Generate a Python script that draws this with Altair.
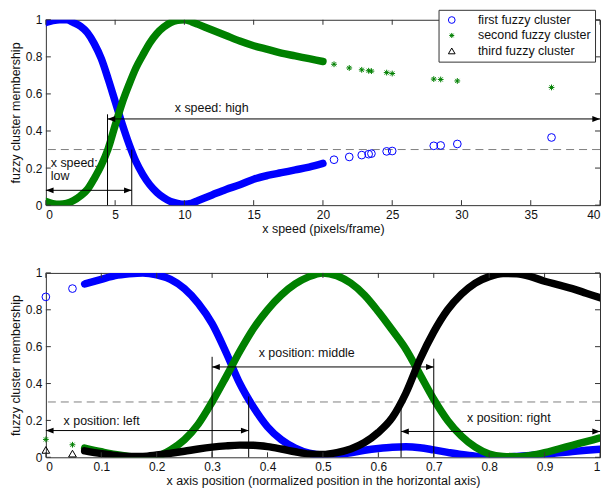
import altair as alt
import pandas as pd

FONT = "Liberation Sans"
BLUE = "#0000ff"
GREEN = "#008000"
BLACK = "#000000"
FRAME = "#333333"
TXT = "#111111"

cluster_names = ["first fuzzy cluster", "second fuzzy cluster", "third fuzzy cluster"]
ASTER = "M-0.75,0L0.75,0M0,-0.75L0,0.75M-0.53,-0.53L0.53,0.53M-0.53,0.53L0.53,-0.53"
ARROW_R = "M0,0L-1,-0.38L-1,0.38Z"
ARROW_L = "M0,0L1,-0.38L1,0.38Z"

membership_ticks = [0, 0.2, 0.4, 0.6, 0.8, 1.0]
threshold = [0.3]

# ---------------- top panel: x speed ----------------
speed_x = [0, 0.5, 1, 1.5, 2, 2.5, 3, 3.5, 4, 4.5, 5, 5.5, 6, 6.5, 7, 7.5, 8, 8.5, 9, 9.5,
           10, 10.5, 11, 12, 13, 14, 15, 16, 17, 18, 19, 20]
speed_first = [0.985, 0.995, 1.0, 1.0, 0.985, 0.965, 0.93, 0.87, 0.79, 0.68, 0.56, 0.44, 0.33,
               0.235, 0.165, 0.11, 0.07, 0.04, 0.02, 0.01, 0.005, 0.01, 0.025, 0.055, 0.085,
               0.11, 0.14, 0.16, 0.175, 0.19, 0.205, 0.225]
speed_second = [0.02, 0.008, 0.005, 0.01, 0.025, 0.05, 0.085, 0.145, 0.215, 0.305, 0.43, 0.55,
                0.65, 0.74, 0.81, 0.875, 0.925, 0.96, 0.985, 0.997, 1.0, 0.99, 0.975, 0.945,
                0.915, 0.885, 0.86, 0.84, 0.82, 0.805, 0.79, 0.775]
speed_sparse_x = [20.8, 21.9, 22.8, 23.3, 23.5, 24.6, 25.0, 28.0, 28.5, 29.7, 36.5]
speed_sparse_first = [0.245, 0.26, 0.27, 0.275, 0.278, 0.29, 0.292, 0.32, 0.322, 0.33, 0.365]
speed_sparse_second = [0.76, 0.74, 0.73, 0.725, 0.723, 0.715, 0.71, 0.68, 0.678, 0.67, 0.635]
speed_ticks = [0, 5, 10, 15, 20, 25, 30, 35, 40]

speed_vlines_x = [4.45, 6.2]
speed_vlines_top = [0.49, 0.3]
speed_arrow_x0 = [0, 4.45]
speed_arrow_x1 = [6.2, 40]
speed_arrow_y = [0.08, 0.465]
speed_labels = ["x speed:", "low", "x speed: high"]
speed_label_x = [0.35, 0.35, 9.3]
speed_label_y = [0.225, 0.155, 0.525]

# ---------------- bottom panel: x position ----------------
pos_x = [0.07, 0.1, 0.125, 0.15, 0.175, 0.2, 0.225, 0.25, 0.275, 0.3, 0.325, 0.35, 0.375,
         0.4, 0.425, 0.45, 0.475, 0.5, 0.525, 0.55, 0.575, 0.6, 0.625, 0.65, 0.675, 0.7,
         0.725, 0.75, 0.775, 0.8, 0.825, 0.85, 0.875, 0.9, 0.925, 0.95, 0.975, 1.0]
pos_first = [0.94, 0.965, 0.985, 0.995, 1.0, 0.99, 0.965, 0.915, 0.835, 0.725, 0.57, 0.40,
             0.27, 0.165, 0.095, 0.05, 0.022, 0.012, 0.015, 0.025, 0.038, 0.048, 0.055,
             0.057, 0.052, 0.04, 0.027, 0.015, 0.006, 0.002, 0.002, 0.005, 0.01, 0.016,
             0.024, 0.031, 0.038, 0.044]
pos_second = [0.05, 0.03, 0.015, 0.005, 0.0, 0.006, 0.04, 0.095, 0.18, 0.3, 0.435, 0.575,
              0.7, 0.8, 0.88, 0.94, 0.98, 1.0, 0.985, 0.945, 0.88, 0.79, 0.69, 0.585, 0.45,
              0.315, 0.2, 0.115, 0.055, 0.018, 0.005, 0.003, 0.01, 0.025, 0.045, 0.065,
              0.085, 0.105]
pos_third = [0.035, 0.02, 0.01, 0.005, 0.005, 0.012, 0.022, 0.033, 0.045, 0.055, 0.062,
             0.066, 0.065, 0.058, 0.045, 0.03, 0.018, 0.015, 0.025, 0.045, 0.08, 0.135,
             0.215, 0.35, 0.53, 0.68, 0.8, 0.885, 0.945, 0.98, 0.997, 0.995, 0.98, 0.955,
             0.935, 0.915, 0.89, 0.865]
pos_sparse_x = [0.0, 0.048]
pos_sparse_first = [0.87, 0.915]
pos_sparse_second = [0.097, 0.068]
pos_sparse_third = [0.04, 0.02]
pos_ticks = [0, 0.1, 0.2, 0.3, 0.4, 0.5, 0.6, 0.7, 0.8, 0.9, 1.0]

pos_vlines_x = [0.30, 0.366, 0.641, 0.70]
pos_vlines_top = [0.545, 0.33, 0.32, 0.535]
pos_arrow_x0 = [0.0, 0.30, 0.641]
pos_arrow_x1 = [0.366, 0.70, 1.0]
pos_arrow_y = [0.145, 0.49, 0.14]
pos_labels = ["x position: left", "x position: middle", "x position: right"]
pos_label_x = [0.032, 0.384, 0.76]
pos_label_y = [0.195, 0.565, 0.213]

PANEL_W = 556
TOP_H = 186
BOT_H = 185

LEGEND = alt.Legend(
    orient="none", legendX=394, legendY=-10, title=None,
    fillColor="white", strokeColor=FRAME, padding=4,
    labelFont=FONT, labelFontSize=12.5, labelColor=TXT,
    symbolSize=45, symbolStrokeWidth=1, rowPadding=2.5,
    labelOffset=20, symbolOffset=3, offset=0,
)


def build_panel(W, H, xdom, xticks, xtitle, dense_x, dense, sparse_x, sparse,
                vx, vtop, ax0, ax1, ay, labels, lx, ly):
    def xe(field):
        return alt.X(f"{field}:Q",
                     scale=alt.Scale(domain=xdom, nice=False, zero=False),
                     axis=alt.Axis(values=xticks, format="~g", title=xtitle, domain=False,
                                   ticks=False, tickSize=0, grid=False, labelFlush=True,
                                   labelFont=FONT, labelFontSize=12, labelColor=TXT,
                                   labelPadding=4, titleFont=FONT, titleFontSize=12.5,
                                   titleFontWeight="normal", titleColor=TXT, titlePadding=2))

    def ye(field):
        return alt.Y(f"{field}:Q",
                     scale=alt.Scale(domain=[0, 1], nice=False, zero=False),
                     axis=alt.Axis(values=membership_ticks, format="~g",
                                   title="fuzzy cluster membership", domain=False,
                                   ticks=False, tickSize=0, grid=False, labelFlush=False,
                                   labelFont=FONT, labelFontSize=12, labelColor=TXT,
                                   labelPadding=4, titleFont=FONT, titleFontSize=12.5,
                                   titleFontWeight="normal", titleColor=TXT, titlePadding=3))

    layers = []
    layers.append(alt.Chart(pd.DataFrame({"y": threshold})).mark_rule(
        color="#808080", strokeDash=[8, 5], strokeWidth=1).encode(y=ye("y")))

    for ys, color in dense:
        layers.append(alt.Chart(pd.DataFrame({"x": dense_x, "y": ys})).mark_line(
            color=color, strokeWidth=7.5, interpolate="monotone", clip=True,
            strokeJoin="round", strokeCap="round"
        ).encode(x=xe("x"), y=ye("y")))

    rows = []
    for name, ys in sparse:
        for xv, yv in zip(sparse_x, ys):
            rows.append({"x": xv, "y": yv, "cluster": name})
    layers.append(alt.Chart(pd.DataFrame(rows)).mark_point(
        filled=False, size=60, strokeWidth=1, opacity=1
    ).encode(
        x=xe("x"), y=ye("y"),
        color=alt.Color("cluster:N", scale=alt.Scale(domain=cluster_names,
                                                     range=[BLUE, GREEN, BLACK]), legend=LEGEND),
        shape=alt.Shape("cluster:N", scale=alt.Scale(domain=cluster_names,
                                                     range=["circle", ASTER, "triangle-up"]),
                        legend=LEGEND),
    ))

    vdf = pd.DataFrame({"x": vx, "y0": [0] * len(vx), "y1": vtop})
    layers.append(alt.Chart(vdf).mark_rule(color=BLACK, strokeWidth=1).encode(
        x=xe("x"), y=ye("y0"), y2="y1"))

    adf = pd.DataFrame({"x0": ax0, "x1": ax1, "y": ay})
    layers.append(alt.Chart(adf).mark_rule(color=BLACK, strokeWidth=1).encode(
        x=xe("x0"), x2="x1", y=ye("y")))
    layers.append(alt.Chart(adf).mark_point(
        shape=ARROW_L, filled=True, color=BLACK, size=240, opacity=1).encode(
        x=xe("x0"), y=ye("y")))
    layers.append(alt.Chart(adf).mark_point(
        shape=ARROW_R, filled=True, color=BLACK, size=240, opacity=1).encode(
        x=xe("x1"), y=ye("y")))

    tdf = pd.DataFrame({"x": lx, "y": ly, "t": labels})
    layers.append(alt.Chart(tdf).mark_text(
        align="left", baseline="middle", font=FONT, fontSize=12.5, color=TXT).encode(
        x=xe("x"), y=ye("y"), text="t:N"))

    xt = pd.DataFrame({"x": xticks})
    yt = pd.DataFrame({"y": membership_ticks})
    layers.append(alt.Chart(xt).mark_rule(color=FRAME).encode(
        x=xe("x"), y=alt.value(0), y2=alt.value(5)))
    layers.append(alt.Chart(xt).mark_rule(color=FRAME).encode(
        x=xe("x"), y=alt.value(H), y2=alt.value(H - 5)))
    layers.append(alt.Chart(yt).mark_rule(color=FRAME).encode(
        y=ye("y"), x=alt.value(0), x2=alt.value(5)))
    layers.append(alt.Chart(yt).mark_rule(color=FRAME).encode(
        y=ye("y"), x=alt.value(W), x2=alt.value(W - 5)))

    return alt.layer(*layers).properties(width=W, height=H)


top = build_panel(
    PANEL_W, TOP_H, [0, 40], speed_ticks, "x speed (pixels/frame)",
    speed_x, [(speed_first, BLUE), (speed_second, GREEN)],
    speed_sparse_x, [(cluster_names[0], speed_sparse_first),
                     (cluster_names[1], speed_sparse_second)],
    speed_vlines_x, speed_vlines_top, speed_arrow_x0, speed_arrow_x1, speed_arrow_y,
    speed_labels, speed_label_x, speed_label_y)

bottom = build_panel(
    PANEL_W, BOT_H, [0, 1], pos_ticks,
    "x axis position (normalized position in the horizontal axis)",
    pos_x, [(pos_first, BLUE), (pos_second, GREEN), (pos_third, BLACK)],
    pos_sparse_x, [(cluster_names[0], pos_sparse_first),
                   (cluster_names[1], pos_sparse_second),
                   (cluster_names[2], pos_sparse_third)],
    pos_vlines_x, pos_vlines_top, pos_arrow_x0, pos_arrow_x1, pos_arrow_y,
    pos_labels, pos_label_x, pos_label_y)

chart = alt.vconcat(top, bottom, spacing=68, bounds="flush").properties(
    padding={"left": 0, "top": 0, "right": 0, "bottom": 0}
).configure(
    font=FONT,
    view=alt.ViewConfig(stroke=FRAME, strokeWidth=1),
)

chart.save("out.html", embed_options={"renderer": "svg", "actions": False})
